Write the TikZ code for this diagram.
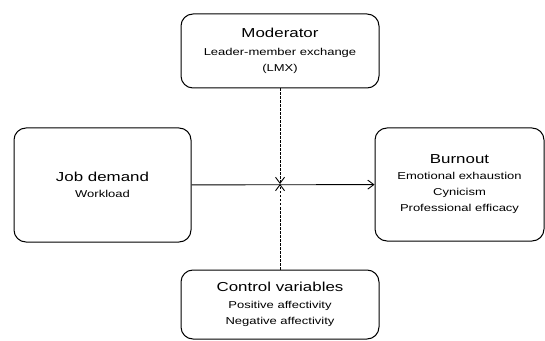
\documentclass[tikz,border=0pt]{standalone}
\usepackage{fontspec}
\setmainfont[FakeStretch=1.3]{Liberation Sans}
\usetikzlibrary{arrows.meta}
\newcommand{\ttl}{\fontsize{13}{15}\selectfont}
\newcommand{\sub}{\fontsize{10}{16}\selectfont}

\begin{document}
\begin{tikzpicture}[x=1pt,y=1pt]

\tikzstyle{bx}=[shape=rectangle,draw,line width=1pt,rounded corners=12pt,align=center,inner sep=0pt,font=\sub]
\tikzstyle{ar}=[line width=0.9pt,-{Straight Barb[length=6pt,width=9pt]}]
\tikzstyle{da}=[line width=0.9pt,dash pattern=on 2.5pt off 1.5pt,-{Straight Barb[length=6pt,width=9pt]}]

\useasboundingbox (0,0) rectangle (545,340);

\node[bx,minimum width=198,minimum height=74] (mod) at (280,289)
  {{\ttl Moderator}\\[2pt]Leader-member exchange\\(LMX)};
\node[bx,minimum width=177,minimum height=114] (job) at (102.5,155)
  {{\ttl Job demand}\\Workload};
\node[bx,minimum width=169,minimum height=113] (burn) at (459.5,155.5)
  {{\ttl Burnout}\\Emotional exhaustion\\Cynicism\\Professional efficacy};
\node[bx,minimum width=198,minimum height=69] (ctrl) at (280,35.5)
  {{\ttl Control variables}\\[1pt]Positive affectivity\\Negative affectivity};

\coordinate (m) at (280,156);

\draw[ar] (job) -- (burn);
\foreach \x in {mod,ctrl}
  \draw[da] (\x) -- (m);

\end{tikzpicture}
\end{document}
